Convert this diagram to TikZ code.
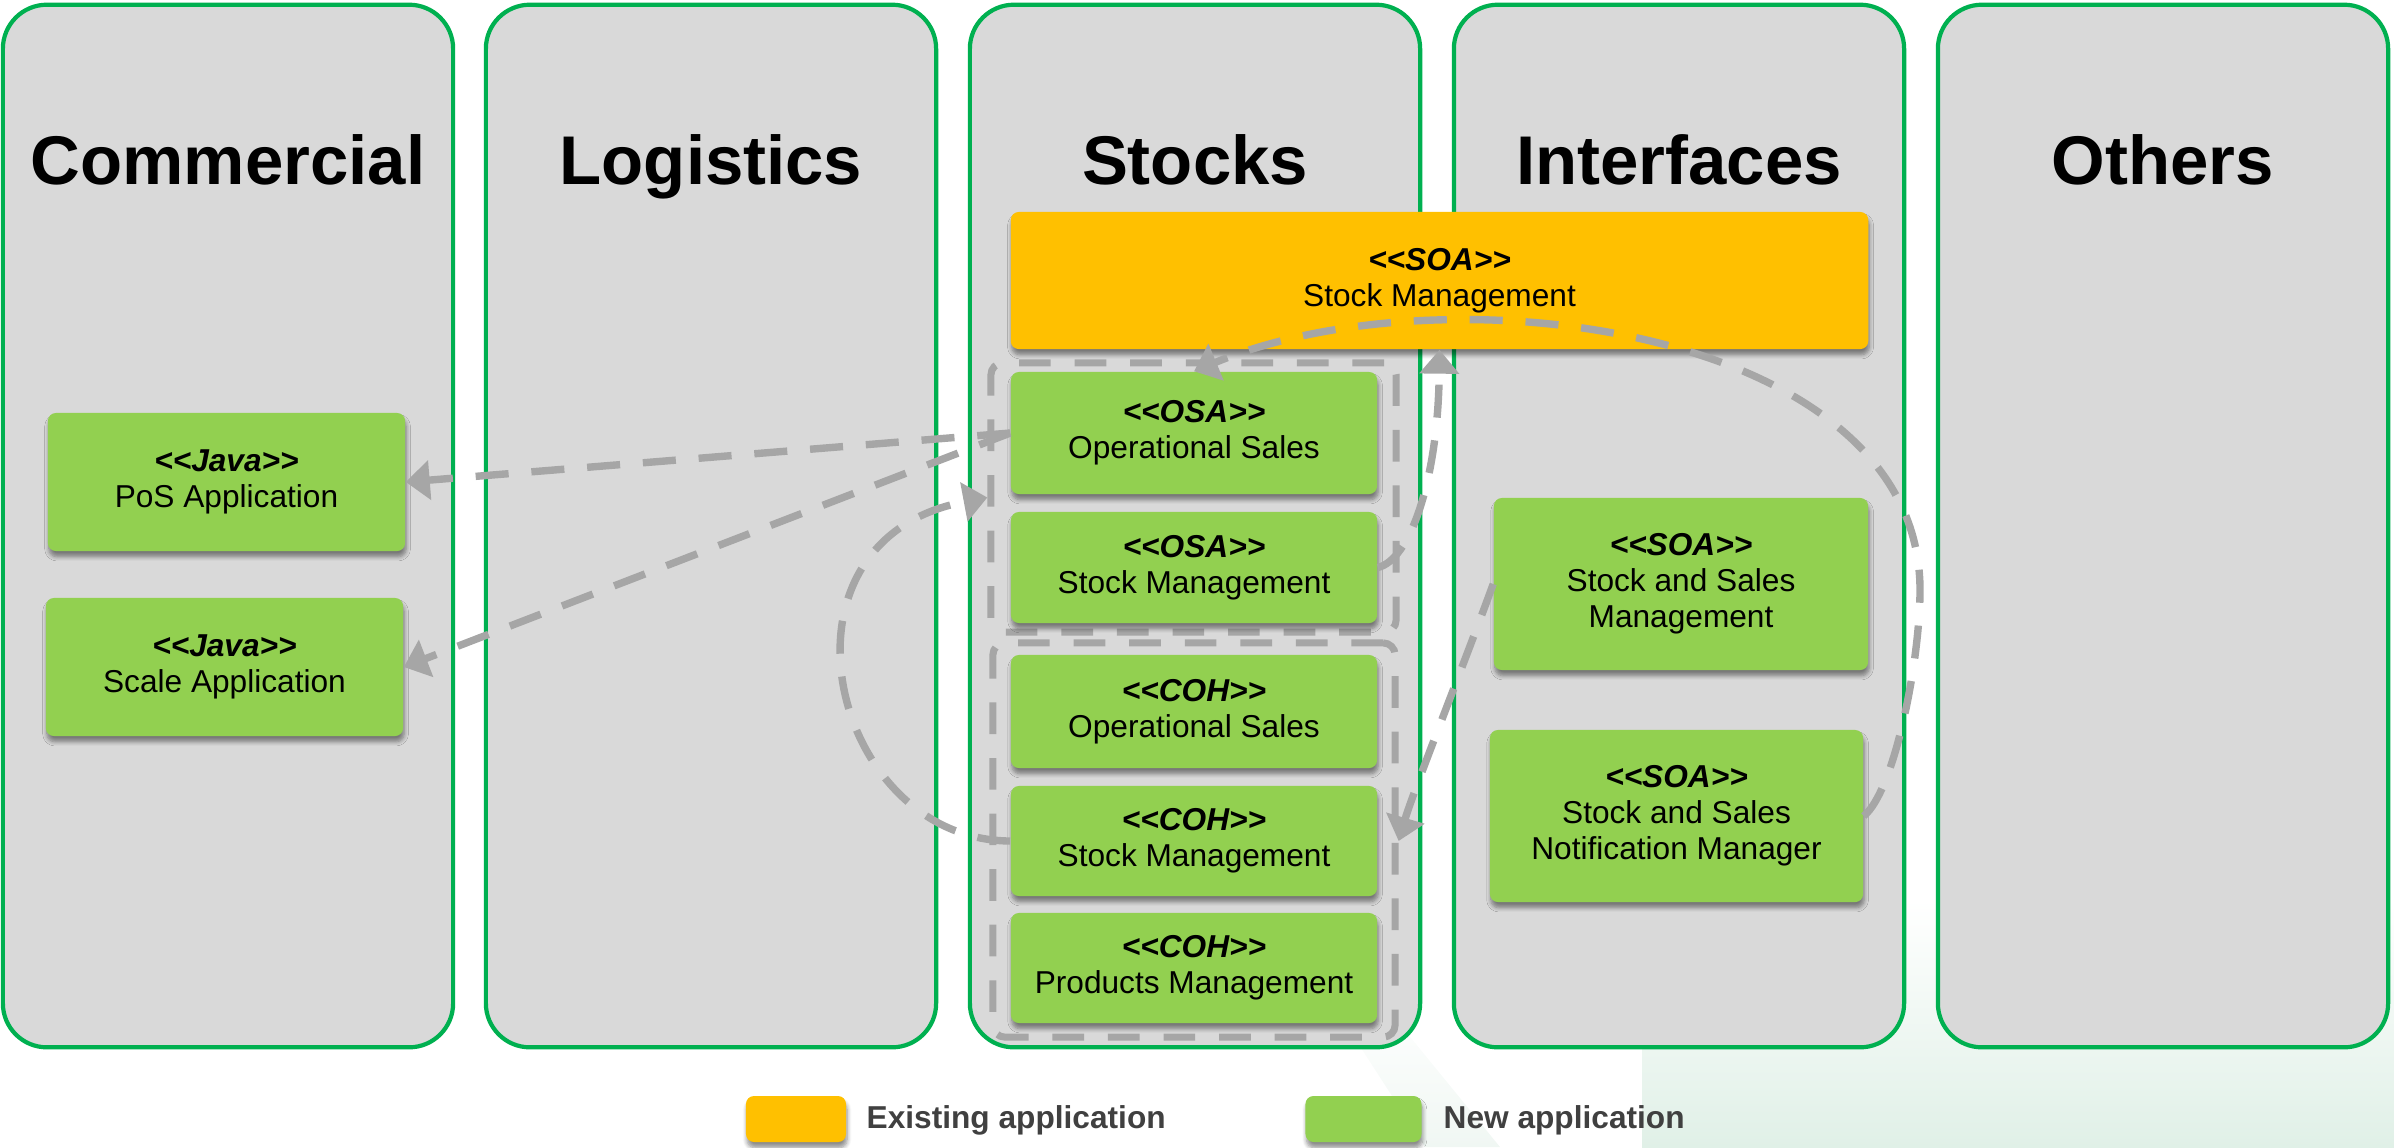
\documentclass[tikz,border=0pt]{standalone}
\usepackage{fontspec}
\newfontfamily\lsans{Liberation Sans}
\usetikzlibrary{arrows.meta,shadows.blur}
\definecolor{colfill}{HTML}{D9D9D9}
\definecolor{colborder}{HTML}{00B050}
\definecolor{appgreen}{HTML}{92D050}
\definecolor{apporange}{HTML}{FFC000}
\definecolor{linkgray}{HTML}{A6A6A6}
\definecolor{legendtext}{HTML}{404040}
\definecolor{wmgreen}{RGB}{224,240,231}
\definecolor{wmband}{RGB}{240,247,243}
\begin{document}
\begin{tikzpicture}[x=0.01cm,y=-0.01cm,font=\lsans,
  column/.style={draw=colborder,line width=1.2pt,fill=colfill,rounded corners=0.44cm,
    minimum width=4.5cm,minimum height=10.42cm,inner sep=0pt},
  coltitle/.style={font=\lsans\fontsize{19.6}{24}\selectfont\bfseries,anchor=base,inner sep=0pt},
  app/.style={rounded corners=0.8mm,inner sep=0pt,align=center,
    font=\lsans\fontsize{9}{10.2}\selectfont,
    blur shadow={shadow xshift=0.3pt,shadow yshift=-1.6pt,shadow blur steps=6,
      shadow blur radius=1.2pt,shadow opacity=45}},
  newapp/.style={app,fill=appgreen},
  oldapp/.style={app,fill=apporange},
  group/.style={draw=linkgray,line width=2pt,dash pattern=on 9pt off 6.8pt,
    rounded corners=1.2mm,inner sep=0pt},
  link/.style={draw=linkgray,line width=2.1pt,dash pattern=on 9.4pt off 6.5pt,
    -{Triangle[length=6.8pt,width=11pt]}},
  legendlabel/.style={font=\lsans\fontsize{9}{10}\selectfont\bfseries,text=legendtext,
    anchor=base west,inner sep=0pt}
]
\useasboundingbox (0,0) rectangle (2394,1147);

% faint background decoration in the lower right
\shade[top color=white,bottom color=wmband] (1330,1000) -- (1380,1000) -- (1500,1147) -- (1425,1147) -- cycle;
\shade[top color=white,bottom color=wmgreen] (1642,900) rectangle (2394,1147);

% domain columns
\node[column] (c1) at (228,526) {};
\node[column] (c2) at (711,526) {};
\node[column] (c3) at (1195,526) {};
\node[column] (c4) at (1679,526) {};
\node[column] (c5) at (2163,526) {};

\node[coltitle] (t1) at (228,184) {Commercial};
\node[coltitle] (t2) at (711,184) {Logistics};
\node[coltitle] (t3) at (1195,184) {Stocks};
\node[coltitle] (t4) at (1679,184) {Interfaces};
\node[coltitle] (t5) at (2163,184) {Others};

% groupings inside the Stocks column
\node[group,minimum width=4.05cm,minimum height=2.69cm] (grpA) at (1193.5,497.5) {};
\node[group,minimum width=4.02cm,minimum height=3.94cm] (grpB) at (1194,840) {};

% applications
\node[oldapp,minimum width=8.57cm,minimum height=1.37cm] (soa) at (1439.5,280.5)
  {\bfseries\itshape <<SOA>>\\Stock Management};

\node[newapp,minimum width=3.66cm,minimum height=1.22cm] (osa1) at (1194,433)
  {\bfseries\itshape <<OSA>>\\Operational Sales};
\node[newapp,minimum width=3.66cm,minimum height=1.11cm] (osa2) at (1194,567.5)
  {\bfseries\itshape <<OSA>>\\Stock Management};
\node[newapp,minimum width=3.66cm,minimum height=1.13cm] (cohos) at (1194,711.5)
  {\bfseries\itshape <<COH>>\\Operational Sales};
\node[newapp,minimum width=3.66cm,minimum height=1.10cm] (cohsm) at (1194,841)
  {\bfseries\itshape <<COH>>\\Stock Management};
\node[newapp,minimum width=3.66cm,minimum height=1.10cm] (cohpm) at (1194,968)
  {\bfseries\itshape <<COH>>\\Products Management};

\node[newapp,minimum width=3.74cm,minimum height=1.72cm] (ssm) at (1681,584)
  {\bfseries\itshape <<SOA>>\\Stock and Sales\\Management};
\node[newapp,minimum width=3.73cm,minimum height=1.72cm] (ssnm) at (1676.5,816)
  {\bfseries\itshape <<SOA>>\\Stock and Sales\\Notification Manager};

\node[newapp,minimum width=3.57cm,minimum height=1.38cm] (pos) at (226.5,482)
  {\bfseries\itshape <<Java>>\\PoS Application};
\node[newapp,minimum width=3.57cm,minimum height=1.38cm] (scale) at (224.5,667)
  {\bfseries\itshape <<Java>>\\Scale Application};

% legend
\node[oldapp,minimum width=1.00cm,minimum height=0.46cm] (lgold) at (796,1119) {};
\node[legendlabel] (lgoldt) at (866,1128) {Existing application};
\node[newapp,minimum width=1.16cm,minimum height=0.46cm] (lgnew) at (1363.5,1119) {};
\node[legendlabel] (lgnewt) at (1443,1128) {New application};

% dependencies
\draw[link] (osa1.west) -- (pos.east);
\draw[link] (osa1.west) -- (scale.east);
\draw[link] (cohsm.west) .. controls (830,840) and (760,540) .. (grpA.west);
\draw[link] (osa2.east) .. controls (1410,560) and (1438,480) .. (soa.south);
\draw[link] (ssm.west) .. controls (1464,664) and (1413,792) .. (grpB.east |- cohsm.east);
\draw[link] (ssnm.east) .. controls (1895,790) and (1920,660) .. (1920,590)
  .. controls (1920,330) and (1450,265) .. (osa1.north);
\end{tikzpicture}
\end{document}
